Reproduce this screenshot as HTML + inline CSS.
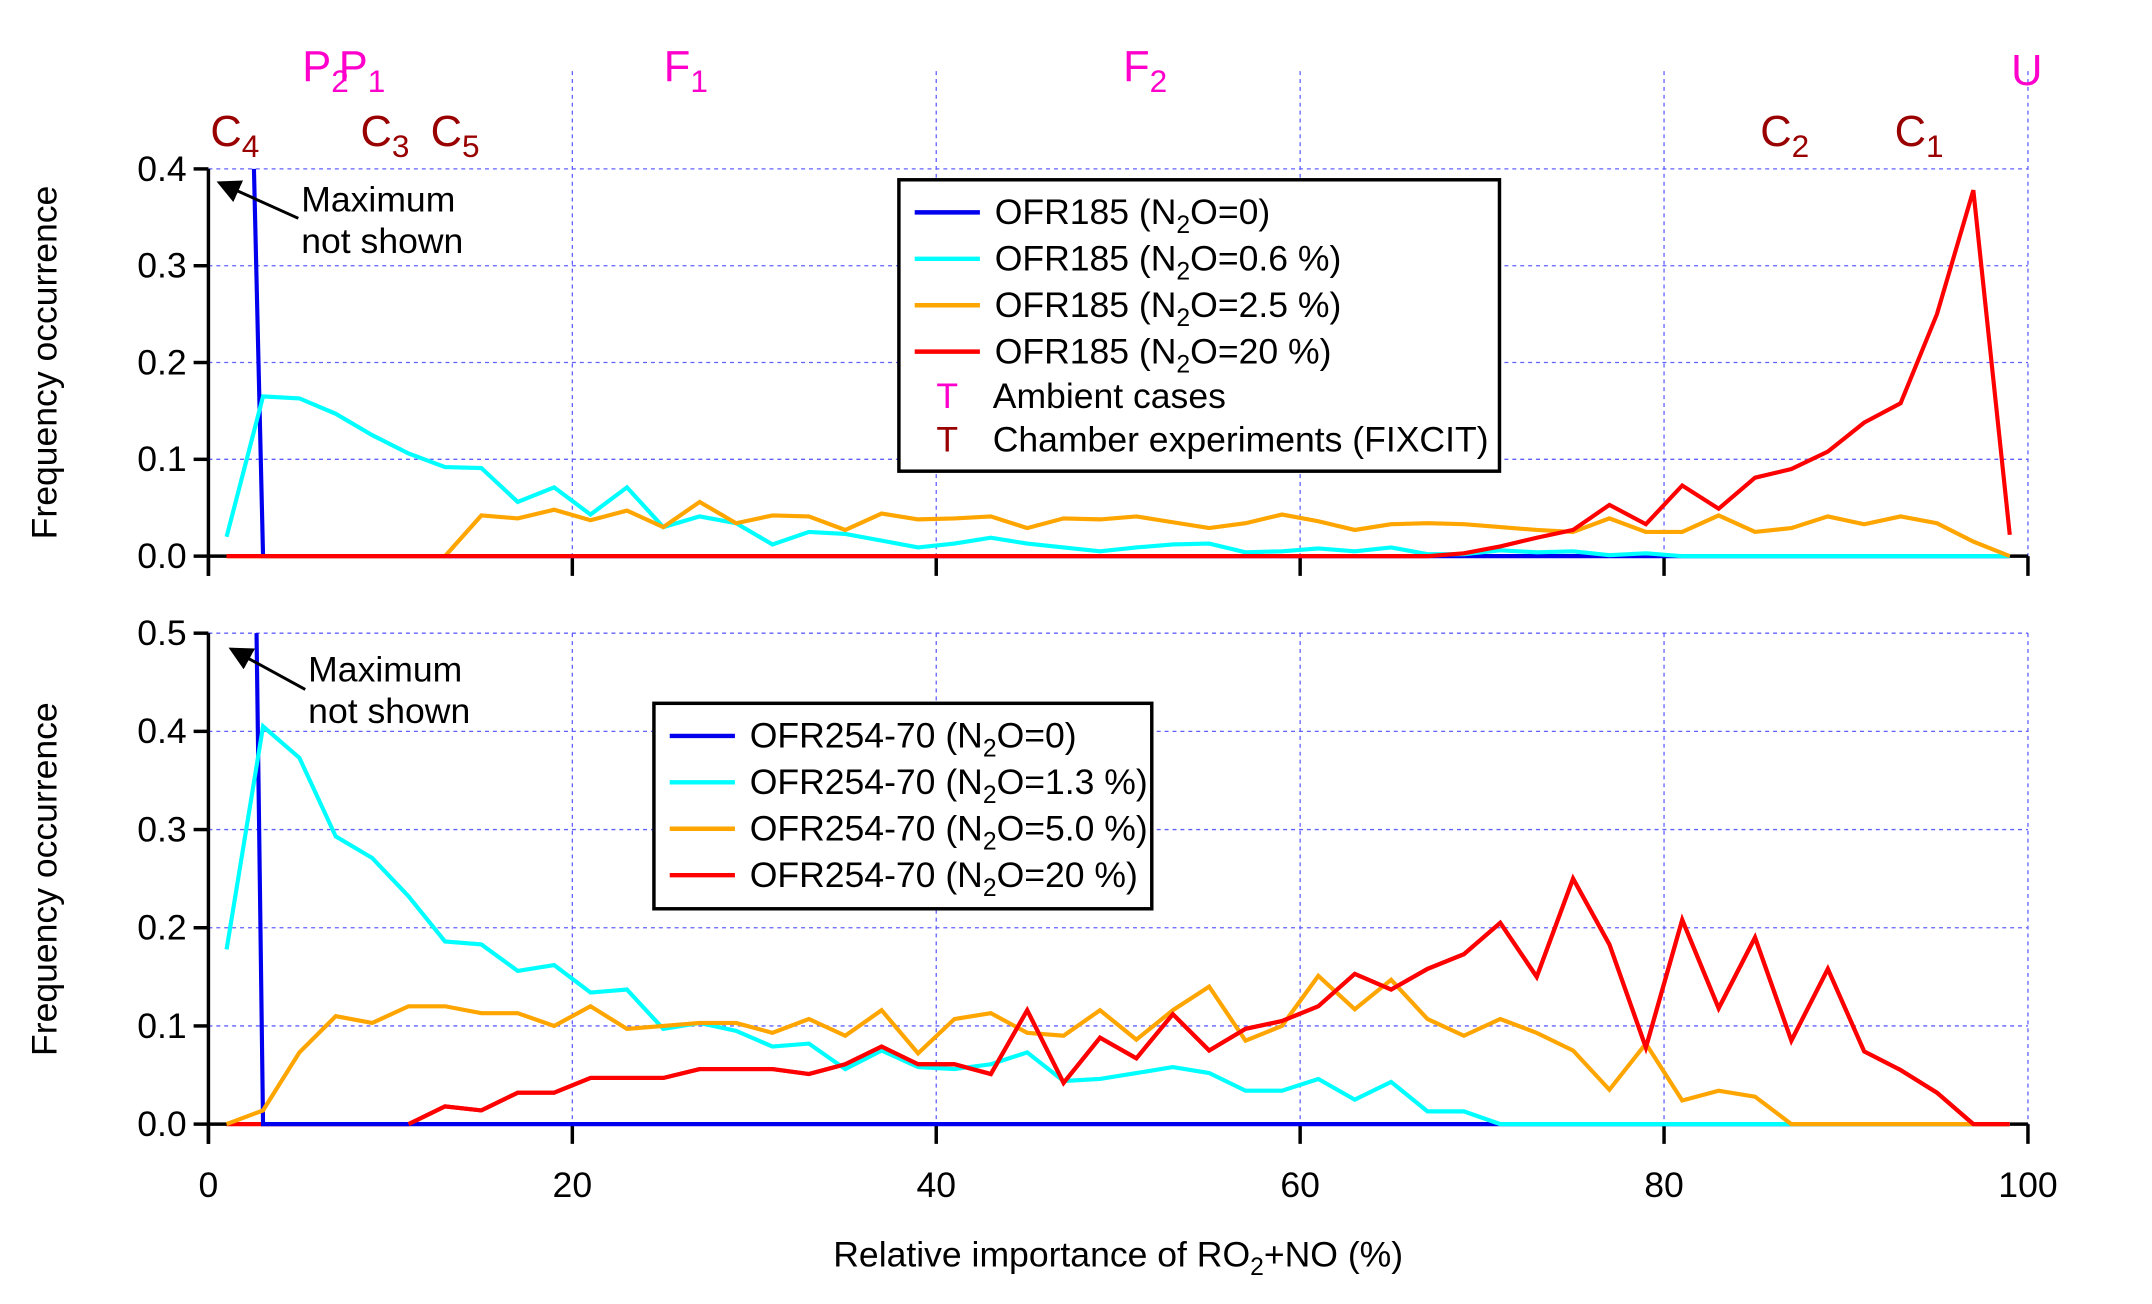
<!DOCTYPE html>
<html><head><meta charset="utf-8"><style>
html,body{margin:0;padding:0;background:#fff}
svg{display:block;font-family:"Liberation Sans",Arial,sans-serif}
</style></head><body>
<svg id="chart" width="2152" height="1304" viewBox="0 0 2152 1304" xmlns="http://www.w3.org/2000/svg">
<defs>
<clipPath id="clipTop"><rect x="211" y="171" width="1842" height="400"/></clipPath>
<clipPath id="clipBot"><rect x="211" y="641" width="1842" height="505"/></clipPath>
<marker id="arr" markerWidth="8" markerHeight="8" refX="7" refY="4" orient="auto"><path d="M0,0 L8,4 L0,8 z" fill="#000"/></marker>
</defs>
<g id="layer" transform="scale(0.9878)"></g>
</svg>
<script>
const xCats=[1,3,5,7,9,11,13,15,17,19,21,23,25,27,29,31,33,35,37,39,41,43,45,47,49,51,53,55,57,59,61,63,65,67,69,71,73,75,77,79,81,83,85,87,89,91,93,95,97,99];
const topBlue=[1.6,0,0,0,0,0,0,0,0,0,0,0,0,0,0,0,0,0,0,0,0,0,0,0,0,0,0,0,0,0,0,0,0,0,0,0,0,0,0,0,0,0,0,0,0,0,0,0,0,0];
const topCyan=[0.02,0.165,0.163,0.147,0.125,0.106,0.092,0.091,0.056,0.071,0.043,0.071,0.03,0.041,0.034,0.012,0.025,0.023,0.016,0.009,0.013,0.019,0.013,0.009,0.005,0.009,0.012,0.013,0.004,0.005,0.008,0.005,0.009,0.002,0.002,0.006,0.004,0.005,0.001,0.003,0,0,0,0,0,0,0,0,0,0];
const topOrange=[0,0,0,0,0,0,0,0.042,0.039,0.048,0.037,0.047,0.03,0.056,0.034,0.042,0.041,0.027,0.044,0.038,0.039,0.041,0.029,0.039,0.038,0.041,0.035,0.029,0.034,0.043,0.036,0.027,0.033,0.034,0.033,0.03,0.027,0.025,0.039,0.025,0.025,0.042,0.025,0.029,0.041,0.033,0.041,0.034,0.015,0];
const topRed=[0,0,0,0,0,0,0,0,0,0,0,0,0,0,0,0,0,0,0,0,0,0,0,0,0,0,0,0,0,0,0,0,0,0,0.003,0.01,0.019,0.027,0.053,0.033,0.073,0.049,0.081,0.09,0.108,0.138,0.158,0.25,0.378,0.022];
const botBlue=[2.8,0,0,0,0,0,0,0,0,0,0,0,0,0,0,0,0,0,0,0,0,0,0,0,0,0,0,0,0,0,0,0,0,0,0,0,0,0,0,0,0,0,0,0,0,0,0,0,0,0];
const botCyan=[0.178,0.405,0.373,0.293,0.271,0.232,0.186,0.183,0.156,0.162,0.134,0.137,0.097,0.103,0.095,0.079,0.082,0.056,0.075,0.058,0.056,0.061,0.073,0.044,0.046,0.052,0.058,0.052,0.034,0.034,0.046,0.025,0.043,0.013,0.013,0,0,0,0,0,0,0,0,0,0,0,0,0,0,0];
const botOrange=[0,0.014,0.073,0.11,0.103,0.12,0.12,0.113,0.113,0.1,0.12,0.097,0.1,0.103,0.103,0.093,0.107,0.09,0.116,0.072,0.107,0.113,0.093,0.09,0.116,0.086,0.116,0.14,0.085,0.1,0.151,0.117,0.147,0.107,0.09,0.107,0.093,0.075,0.035,0.082,0.024,0.034,0.028,0,0,0,0,0,0,0];
const botRed=[0,0,0,0,0,0,0.018,0.014,0.032,0.032,0.047,0.047,0.047,0.056,0.056,0.056,0.051,0.061,0.079,0.061,0.061,0.051,0.116,0.042,0.088,0.067,0.112,0.075,0.097,0.105,0.12,0.153,0.137,0.158,0.173,0.205,0.15,0.25,0.183,0.078,0.208,0.118,0.19,0.085,0.158,0.074,0.055,0.032,0,0];
const xTicks=[0,20,40,60,80,100];
const topYTicks=["0.0","0.1","0.2","0.3","0.4"];
const botYTicks=["0.0","0.1","0.2","0.3","0.4","0.5"];
const sub="<tspan font-size='25' dy='9'>2</tspan><tspan dy='-9'>";
const topLegend=["OFR185 (N"+sub+"O=0)</tspan>","OFR185 (N"+sub+"O=0.6 %)</tspan>","OFR185 (N"+sub+"O=2.5 %)</tspan>","OFR185 (N"+sub+"O=20 %)</tspan>"];
const botLegend=["OFR254-70 (N"+sub+"O=0)</tspan>","OFR254-70 (N"+sub+"O=1.3 %)</tspan>","OFR254-70 (N"+sub+"O=5.0 %)</tspan>","OFR254-70 (N"+sub+"O=20 %)</tspan>"];
const colors=["#0000ee","#00ffff","#ffa500","#ff0000"];

const NS="http://www.w3.org/2000/svg";
const L=document.getElementById('layer');
const X0=211,X1=2053;
const FS=36;
const xs=v=>X0+(X1-X0)*v/100;
const yTop=v=>563-(563-171)*v/0.4;
const yBot=v=>1138-(1138-641)*v/0.5;
function mk(tag,attrs,parent){const e=document.createElementNS(NS,tag);for(const k in attrs)e.setAttribute(k,attrs[k]);(parent||L).appendChild(e);return e;}

const grid=mk('g',{});


for(const t of xTicks.slice(1)){
  mk('line',{x1:xs(t),x2:xs(t),y1:72,y2:563,stroke:'#6060ff','stroke-width':1.3,'stroke-dasharray':'4,4'},grid);
  mk('line',{x1:xs(t),x2:xs(t),y1:641,y2:1138,stroke:'#6060ff','stroke-width':1.3,'stroke-dasharray':'4,4'},grid);
}
topYTicks.forEach((t,i)=>{if(i>0)mk('line',{x1:X0,x2:X1,y1:yTop(+t),y2:yTop(+t),stroke:'#6060ff','stroke-width':1.3,'stroke-dasharray':'4,4'},grid);});
botYTicks.forEach((t,i)=>{if(i>0)mk('line',{x1:X0,x2:X1,y1:yBot(+t),y2:yBot(+t),stroke:'#6060ff','stroke-width':1.3,'stroke-dasharray':'4,4'},grid);});

function axes(yf,ticks,yTopPx,name,showLabels){
  const g=mk('g',{});
  
  
  const y0=yf(0);
  mk('line',{x1:X0,x2:X0,y1:yTopPx,y2:y0+20,stroke:'#000','stroke-width':3.5},g);
  mk('line',{x1:X0,x2:X1,y1:y0,y2:y0,stroke:'#000','stroke-width':3.5},g);
  ticks.forEach(t=>{
    const y=yf(+t);
    mk('line',{x1:X0-15,x2:X0,y1:y,y2:y,stroke:'#000','stroke-width':3.5},g);
    const tx=mk('text',{x:X0-22,y:y+12,'text-anchor':'end','font-size':FS},g);tx.textContent=t;
  });
  xTicks.forEach(t=>{
    mk('line',{x1:xs(t),x2:xs(t),y1:y0,y2:y0+20,stroke:'#000','stroke-width':3.5},g);
    if(showLabels){const tx=mk('text',{x:xs(t),y:1212,'text-anchor':'middle','font-size':FS},g);tx.textContent=t;}
  });
}
axes(yTop,topYTicks,171,'top-axes',false);
axes(yBot,botYTicks,641,'bottom-axes',true);

function series(data,yf,color,clip,name){
  const pts=xCats.map((c,i)=>xs(c).toFixed(1)+','+yf(data[i]).toFixed(1)).join(' ');
  const p=mk('polyline',{points:pts,fill:'none',stroke:color,'stroke-width':4.2,'stroke-linejoin':'miter','clip-path':'url(#'+clip+')'});
  
  
}
series(topBlue,yTop,colors[0],'clipTop','top-series-n2o-0');
series(topCyan,yTop,colors[1],'clipTop','top-series-n2o-0.6');
series(topOrange,yTop,colors[2],'clipTop','top-series-n2o-2.5');
series(topRed,yTop,colors[3],'clipTop','top-series-n2o-20');
series(botRed,yBot,colors[3],'clipBot','bottom-series-n2o-20');
series(botBlue,yBot,colors[0],'clipBot','bottom-series-n2o-0');
series(botCyan,yBot,colors[1],'clipBot','bottom-series-n2o-1.3');
series(botOrange,yBot,colors[2],'clipBot','bottom-series-n2o-5.0');
(function(){const pts=[];xCats.forEach((c,i)=>{if(c>=11)pts.push(xs(c).toFixed(1)+','+yBot(botRed[i]).toFixed(1));});
const p=mk('polyline',{points:pts.join(' '),fill:'none',stroke:colors[3],'stroke-width':4.2,'clip-path':'url(#clipBot)'});

})();

function legend(x,y,w,h,items,name,extra){
  const g=mk('g',{});
  
  
  mk('rect',{x:x,y:y,width:w,height:h,fill:'#fff',stroke:'#000','stroke-width':3.5},g);
  items.forEach((t,i)=>{
    const yy=y+33+i*47;
    mk('line',{x1:x+16,x2:x+82,y1:yy,y2:yy,stroke:colors[i],'stroke-width':4.5},g);
    const tx=mk('text',{x:x+97,y:yy+12,'font-size':FS},g);tx.innerHTML=t;
  });
  if(extra){
    extra.forEach((e,j)=>{
      const yy=y+33+(4+j)*47-(j?5:2);
      const m=mk('text',{x:x+38,y:yy+12,'font-size':FS,fill:e[0]},g);m.textContent='T';
      const tx=mk('text',{x:x+95,y:yy+12,'font-size':FS},g);tx.textContent=e[1];
    });
  }
}
legend(910,182,608,295,topLegend,'top-legend',[['#ff00cc','Ambient cases'],['#990000','Chamber experiments (FIXCIT)']]);
legend(662,712,504,208,botLegend,'bottom-legend',null);

function note(tx,ty,x1,y1,x2,y2,name){
  const g=mk('g',{});
  
  
  mk('line',{x1:x1,y1:y1,x2:x2,y2:y2,stroke:'#000','stroke-width':3,'marker-end':'url(#arr)'},g);
  const a=mk('text',{x:tx,y:ty,'font-size':FS},g);a.textContent='Maximum';
  const b=mk('text',{x:tx,y:ty+42,'font-size':FS},g);b.textContent='not shown';
}
note(305,214,302,221,222,185,'top-max-note');
note(312,690,309,698,234,657,'bottom-max-note');

function lab(x,y,main,subs,color,name){
  const t=mk('text',{x:x,y:y,'font-size':44,fill:color});
  
  
  t.innerHTML=main+(subs?"<tspan font-size='32' dy='11'>"+subs+"</tspan>":'');
}
const mg='#ff00cc',dr='#990000';
lab(306,82,'P','2',mg,'label-p2');
lab(343,82,'P','1',mg,'label-p1');
lab(672,82,'F','1',mg,'label-f1');
lab(1137,82,'F','2',mg,'label-f2');
lab(2036,86,'U','',mg,'label-u');
lab(213,148,'C','4',dr,'label-c4');
lab(365,148,'C','3',dr,'label-c3');
lab(436,148,'C','5',dr,'label-c5');
lab(1782,148,'C','2',dr,'label-c2');
lab(1918,148,'C','1',dr,'label-c1');

function ytitle(cy,name){const t=mk('text',{x:0,y:0,'font-size':FS,'text-anchor':'middle',transform:'translate(57,'+cy+') rotate(-90)'});


t.textContent='Frequency occurrence';}
ytitle(367,'top-y-axis-title');
ytitle(890,'bottom-y-axis-title');
const xt=mk('text',{x:1132,y:1282,'font-size':FS,'text-anchor':'middle'});


xt.innerHTML="Relative importance of RO"+sub+"+NO (%)</tspan>";
</script>
</body></html>
